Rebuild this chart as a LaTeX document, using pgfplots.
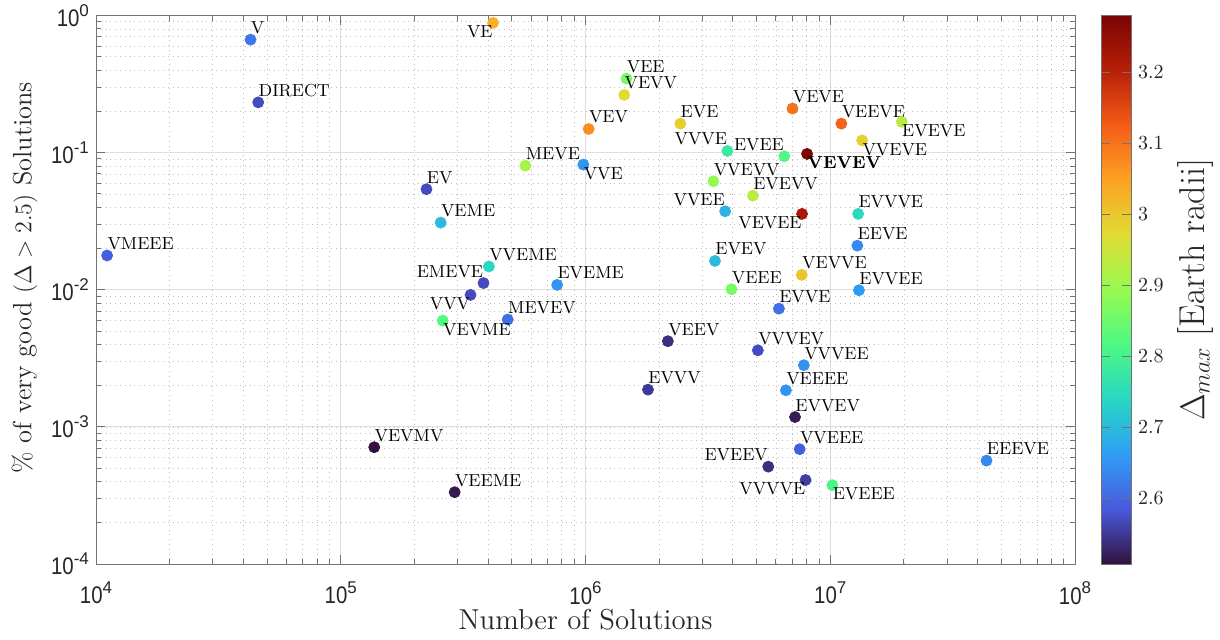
\documentclass[border=0pt]{standalone}
\usepackage{fontspec}
\newfontfamily\ticksans{Liberation Sans}
\usepackage{graphicx}
\usepackage{pgfplots}
\pgfplotsset{compat=1.18}
\usepackage{pgfplotstable}

\pgfplotsset{colormap={turbo}{
rgb=(0.190,0.072,0.232)
rgb=(0.288,0.346,0.867)
rgb=(0.184,0.618,0.960)
rgb=(0.154,0.844,0.765)
rgb=(0.304,0.975,0.512)
rgb=(0.589,0.982,0.313)
rgb=(0.876,0.862,0.196)
rgb=(0.990,0.637,0.136)
rgb=(0.958,0.363,0.091)
rgb=(0.721,0.125,0.031)
rgb=(0.480,0.016,0.011)
}}

% labels above right
\pgfplotstableread{
x y c lab
42800 0.668 2.62 V
46000 0.233 2.57 DIRECT
568000 0.0805 2.91 MEVE
224000 0.0542 2.57 EV
256000 0.0309 2.70 VEME
11100 0.0178 2.59 VMEEE
403000 0.0148 2.74 VVEME
766000 0.01086 2.65 EVEME
481000 0.00607 2.61 MEVEV
137000 0.000711 2.507 VEVMV
292000 0.000334 2.515 VEEME
1470000 0.347 2.86 VEE
1440000 0.264 2.97 VEVV
1030000 0.149 3.07 VEV
2440000 0.163 2.99 EVE
7010000 0.210 3.10 VEVE
11100000 0.163 3.12 VEEVE
3330000 0.0619 2.89 VVEVV
4830000 0.0486 2.93 EVEVV
13000000 0.0358 2.745 EVVVE
12900000 0.0210 2.64 EEVE
3380000 0.01625 2.70 EVEV
7650000 0.01285 3.00 VEVVE
3950000 0.0101 2.86 VEEE
13100000 0.00993 2.66 EVVEE
6170000 0.00729 2.61 EVVE
2170000 0.00422 2.54 VEEV
5060000 0.00362 2.57 VVVEV
7800000 0.00282 2.65 VVVEE
1800000 0.00187 2.55 EVVV
6590000 0.00185 2.65 VEEEE
7180000 0.00118 2.52 EVVEV
7500000 0.000688 2.59 VVEEE
43500000 0.000568 2.64 EEEVE
}\dataSW

% labels below left
\pgfplotstableread{
x y c lab
419000 0.885 3.03 VE
339000 0.00918 2.57 VVV
7670000 0.0358 3.22 VEVEE
7930000 0.000410 2.555 VVVVE
}\dataNE

% labels below right
\pgfplotstableread{
x y c lab
980000 0.0819 2.65 VVE
261000 0.00596 2.82 VEVME
19600000 0.168 2.93 EVEVE
13500000 0.123 2.985 VVEVE
10200000 0.000376 2.81 EVEEE
}\dataNW

% labels above left
\pgfplotstableread{
x y c lab
383000 0.0112 2.57 EMEVE
3800000 0.103 2.78 VVVE
6490000 0.0942 2.82 EVEE
3720000 0.0374 2.69 VVEE
5580000 0.000513 2.54 EVEEV
}\dataSE

\newcommand{\labfont}{\fontsize{8.7}{10}\selectfont}
\newcommand{\tickfont}{\ticksans\fontsize{12}{13}\selectfont}
\newcommand{\cbtickfont}{\ticksans\fontsize{10}{11}\selectfont}
\newcommand{\xlabfont}{\fontsize{14.4}{17}\selectfont}
\newcommand{\ylabfont}{\fontsize{13.2}{16}\selectfont}
\newcommand{\cblabfont}{\fontsize{18}{20}\selectfont}
\newcommand{\logtick}[1]{\scalebox{0.85}[1]{10}\raisebox{0.42em}{\fontsize{8.5}{9}\selectfont #1}}

\newcommand{\grp}[2]{%
  \addplot[scatter, only marks, mark=*, mark size=2.75pt,
    scatter/use mapped color={draw=mapped color, fill=mapped color},
    point meta=explicit] table[x=x, y=y, meta=c] {#1};
  \addplot[only marks, mark=none, point meta=explicit symbolic,
    nodes near coords,
    every node near coord/.append style={anchor=#2, font=\labfont, inner xsep=0pt, inner ysep=1.2pt, text depth=1.6pt, text=black}]
    table[x=x, y=y, meta=lab] {#1};
}

\begin{document}
\begin{tikzpicture}
\begin{axis}[
  name=ax,
  xmode=log, ymode=log, log basis x=10, log basis y=10,
  xmin=1e4, xmax=1e8, ymin=1e-4, ymax=1,
  scale only axis, width=489.5pt, height=274.2pt,
  grid=both,
  major grid style={black!13, line width=0.5pt},
  minor grid style={black!25, dotted, line width=0.4pt},
  axis line style={black!55, line width=0.5pt},
  tick style={black!55, line width=0.5pt},
  major tick length=4.5pt, minor tick length=2.5pt,
  /pgf/number format/assume math mode=true,
  xticklabel={\logtick{\pgfmathprintnumber{\tick}}},
  yticklabel={\logtick{\pgfmathprintnumber{\tick}}},
  ticklabel style={font=\tickfont, text=black!85},
  xticklabel style={yshift=-5.5pt},
  xlabel={Number of Solutions},
  ylabel={\% of very good $(\Delta > 2.5)$ Solutions},
  xlabel style={font=\xlabfont, text=black!85, yshift=4.5pt},
  ylabel style={font=\ylabfont, text=black!85, at={(ticklabel cs:0.522)}},
  colorbar, colormap name=turbo,
  point meta min=2.507, point meta max=3.279,
  colorbar/width=15pt,
  colorbar shift/.style={xshift=13pt},
  colorbar style={
    at={(parent axis.north east)}, anchor=north west,
    ytick={2.6,2.7,2.8,2.9,3.0,3.1,3.2},
    yticklabel style={font=\cbtickfont, text=black!85},
    axis line style={black!55}, tick style={black!55},
    ylabel={$\Delta_{max}$ [Earth radii]},
    ylabel style={font=\cblabfont, text=black!85},
  },
]
\grp{\dataSW}{south west}
\grp{\dataNE}{north east}
\grp{\dataNW}{north west}
\grp{\dataSE}{south east}
\addplot[scatter, only marks, mark=*, mark size=2.75pt,
  scatter/use mapped color={draw=mapped color, fill=mapped color},
  point meta=explicit] coordinates {(8.04e6,0.098) [3.279]};
\addplot[only marks, mark=none, point meta=explicit symbolic,
  nodes near coords={\textbf{VEVEV}},
  every node near coord/.append style={anchor=north west, font=\labfont, inner xsep=0pt, inner ysep=1.2pt, text depth=1.6pt, text=black}]
  coordinates {(8.04e6,0.098) [VEVEV]};
\end{axis}
\pgfresetboundingbox
\path ([xshift=-48pt,yshift=-37.5pt]ax.south west) rectangle ++(610pt,319.5pt);
\end{tikzpicture}
\end{document}
